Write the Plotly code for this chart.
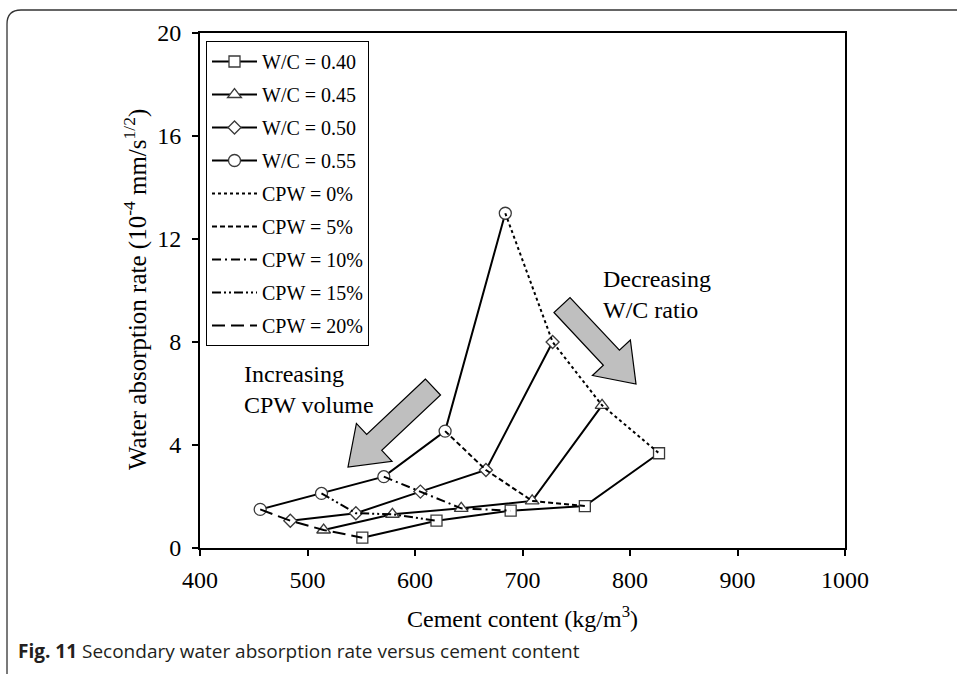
import plotly.graph_objects as go
import math

# ---------------- data ----------------
cpw_levels = ["0%", "5%", "10%", "15%", "20%"]
wc_labels = ["0.40", "0.45", "0.50", "0.55"]

cement_wc040 = [827, 758, 689, 620, 551]
rate_wc040 = [3.68, 1.63, 1.45, 1.06, 0.40]
cement_wc045 = [774, 709, 643, 579, 515]
rate_wc045 = [5.54, 1.83, 1.54, 1.31, 0.70]
cement_wc050 = [728, 666, 605, 545, 484]
rate_wc050 = [8.00, 3.03, 2.19, 1.35, 1.06]
cement_wc055 = [684, 628, 571, 513, 456]
rate_wc055 = [13.0, 4.54, 2.77, 2.12, 1.50]

x_ticks = [400, 500, 600, 700, 800, 900, 1000]
y_ticks = [0, 4, 8, 12, 16, 20]

wc_cement = [cement_wc040, cement_wc045, cement_wc050, cement_wc055]
wc_rate = [rate_wc040, rate_wc045, rate_wc050, rate_wc055]
wc_symbols = ["square", "triangle-up", "diamond", "circle"]
wc_sizes = [11, 12, 10, 12]
cpw_dashes = ["dot", "5px,3px", "9px,4px,2px,4px", "9px,3px,2px,3px,2px,3px", "13px,6px"]

SERIF = "Liberation Serif"

# ---------------- layout geometry (pixels) ----------------
W, H = 957, 674
L, R, T, B = 200, 845, 33, 548


def px(xp):
    return (xp - L) / (R - L)


def py(yp):
    return (B - yp) / (B - T)


fig = go.Figure()

for i, lab in enumerate(wc_labels):
    fig.add_trace(go.Scatter(
        x=wc_cement[i], y=wc_rate[i], mode="lines+markers",
        name="W/C = " + lab, legendgroup="wc" + lab,
        line=dict(color="black", width=2),
        marker=dict(symbol=wc_symbols[i], size=wc_sizes[i], color="white",
                    line=dict(width=1.3, color="#3a3a3a")),
    ))

for k, lev in enumerate(cpw_levels):
    xs = [wc_cement[i][k] for i in (3, 2, 1, 0)]
    ys = [wc_rate[i][k] for i in (3, 2, 1, 0)]
    fig.add_trace(go.Scatter(
        x=xs, y=ys, mode="lines", name="CPW = " + lev, legendgroup="cpw" + lev,
        line=dict(color="black", width=2, dash=cpw_dashes[k]),
    ))


def arrow_path(tail, tip, sw=22, hw=52, hl=36):
    dx, dy = tip[0] - tail[0], tip[1] - tail[1]
    ln = math.hypot(dx, dy)
    ux, uy = dx / ln, dy / ln
    nx, ny = -uy, ux
    bx, by = tip[0] - ux * hl, tip[1] - uy * hl
    pts = [
        (tail[0] + nx * sw / 2, tail[1] + ny * sw / 2),
        (bx + nx * sw / 2, by + ny * sw / 2),
        (bx + nx * hw / 2, by + ny * hw / 2),
        tip,
        (bx - nx * hw / 2, by - ny * hw / 2),
        (bx - nx * sw / 2, by - ny * sw / 2),
        (tail[0] - nx * sw / 2, tail[1] - ny * sw / 2),
    ]
    s = "M" + " L".join(f"{px(a):.5f},{py(b):.5f}" for a, b in pts) + " Z"
    return s


shapes = [
    dict(type="path", xref="paper", yref="paper",
         path=arrow_path((433, 387), (348, 467)),
         fillcolor="#bfbfbf", line=dict(color="black", width=1.2), layer="above"),
    dict(type="path", xref="paper", yref="paper",
         path=arrow_path((562, 305), (636, 384)),
         fillcolor="#bfbfbf", line=dict(color="black", width=1.2), layer="above"),
]

# rounded outer frame
fx0, fy0, fx1, fy1, rr = 7, 10, 990, 700, 14
frame = (f"M{px(fx0):.5f},{py(fy0 + rr):.5f} Q{px(fx0):.5f},{py(fy0):.5f} {px(fx0 + rr):.5f},{py(fy0):.5f} "
         f"L{px(fx1):.5f},{py(fy0):.5f} L{px(fx1):.5f},{py(fy1):.5f} L{px(fx0 + rr):.5f},{py(fy1):.5f} "
         f"Q{px(fx0):.5f},{py(fy1):.5f} {px(fx0):.5f},{py(fy1 - rr):.5f} Z")
shapes.append(dict(type="path", xref="paper", yref="paper", path=frame,
                   line=dict(color="#333333", width=1.3), layer="below"))

annotations = [
    dict(text="Increasing<br>CPW volume", xref="paper", yref="paper",
         x=px(242), y=py(389), xanchor="left", yanchor="middle", align="left",
         showarrow=False, font=dict(family=SERIF, size=24, color="black")),
    dict(text="Decreasing<br>W/C ratio", xref="paper", yref="paper",
         x=px(601), y=py(294), xanchor="left", yanchor="middle", align="left",
         showarrow=False, font=dict(family=SERIF, size=24, color="black")),
    dict(text="Water absorption rate (10<sup>-4</sup> mm/s<sup>1/2</sup>)",
         xref="paper", yref="paper", x=px(135), y=py(290), textangle=-90,
         xanchor="center", yanchor="middle", showarrow=False,
         font=dict(family=SERIF, size=25, color="black")),
    dict(text="Cement content (kg/m<sup>3</sup>)", xref="paper", yref="paper",
         x=px(522), y=py(617), xanchor="center", yanchor="middle", showarrow=False,
         font=dict(family=SERIF, size=24, color="black")),
    dict(text="<b>Fig. 11</b> Secondary water absorption rate versus cement content",
         xref="paper", yref="paper", x=px(16), y=py(651), xanchor="left", yanchor="middle",
         showarrow=False, font=dict(family="Open Sans", size=19, color="#231f20")),
]

fig.update_layout(
    width=W, height=H,
    margin=dict(l=L, r=W - R, t=T, b=H - B, pad=0),
    paper_bgcolor="white", plot_bgcolor="white",
    shapes=shapes, annotations=annotations,
    showlegend=True,
    legend=dict(x=px(206), y=py(41), xanchor="left", yanchor="top",
                bgcolor="white", bordercolor="black", borderwidth=1,
                font=dict(family=SERIF, size=20, color="black"),
                traceorder="grouped", tracegroupgap=4, itemwidth=45),
)
fig.update_xaxes(range=[400, 1000], tickvals=x_ticks, ticks="outside", ticklen=6,
                 tickwidth=1.5, tickcolor="black", linecolor="black", linewidth=2,
                 mirror=True, showgrid=False, zeroline=False, ticklabelstandoff=3,
                 tickfont=dict(family=SERIF, size=24, color="black"))
fig.update_yaxes(range=[0, 20], tickvals=y_ticks, ticks="outside", ticklen=6,
                 tickwidth=1.5, tickcolor="black", linecolor="black", linewidth=2,
                 mirror=True, showgrid=False, zeroline=False, ticklabelstandoff=6,
                 tickfont=dict(family=SERIF, size=24, color="black"))

fig.write_html("out.html")
